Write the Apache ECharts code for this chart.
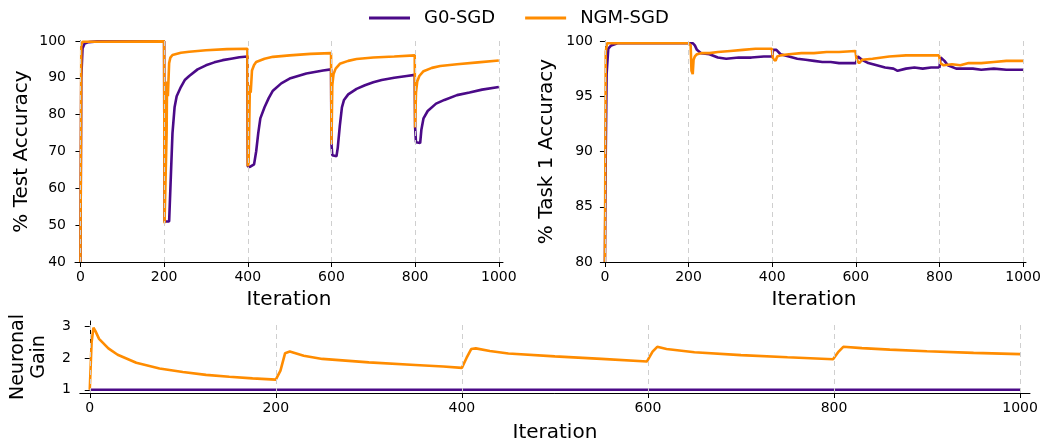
<!DOCTYPE html>
<html><head><meta charset="utf-8">
<script src="https://cdn.jsdelivr.net/npm/echarts@6/dist/echarts.min.js"></script>
<style>html,body{margin:0;padding:0;background:#fff}#c{width:1045px;height:444px}</style>
</head><body><div id="c"></div>
<script>
// ---- data ----
const xTicks = [0, 200, 400, 600, 800, 1000];
const taskBoundaries = [0, 200, 400, 600, 800, 1000];
const testAccTicks = [40, 50, 60, 70, 80, 90, 100];
const task1AccTicks = [80, 85, 90, 95, 100];
const gainTicks = [1, 2, 3];

const testAccG0 = [[0,40],[2,90],[5,98],[10,99.3],[20,99.7],[40,99.9],[200,99.9],[201,51],[212,51],[215,60],[220,75],[225,82],[230,85],[240,87.5],[250,89.5],[260,90.5],[280,92.3],[300,93.4],[320,94.2],[340,94.8],[360,95.2],[380,95.6],[399,95.8],
[400,66],[405,65.8],[415,66.5],[420,70],[425,75],[430,79],[440,82],[450,84.5],[460,86.5],[480,88.5],[500,89.8],[520,90.5],[540,91.2],[560,91.6],[580,92],[599,92.3],
[600,72],[602,69],[605,68.6],[612,68.7],[615,71],[620,77],[625,82],[630,84],[640,85.5],[660,87],[680,88],[700,88.8],[720,89.4],[750,90],[780,90.5],[799,90.8],
[800,76.5],[802,72.5],[805,72.1],[812,72.3],[815,76],[820,79],[830,81],[850,83],[870,84],[900,85.3],[930,86],[960,86.8],[1000,87.5]];
const testAccNGM = [[0,40],[2,99],[5,99.8],[200,99.9],[201,50.5],[204,50.5],[206,75],[207,89],[209,85],[212,94],[215,95.5],[220,96.2],[240,96.8],[260,97.1],[300,97.5],[350,97.8],[399,97.9],
[400,66],[402,67],[405,88],[407,86],[410,92],[415,93.5],[420,94.3],[440,95.2],[460,95.7],[500,96.1],[550,96.5],[599,96.7],
[600,72],[602,88],[605,91],[610,92.5],[620,93.8],[640,94.6],[660,95.1],[700,95.5],[750,95.8],[799,96.1],
[800,76.5],[802,86],[805,89],[810,90.5],[820,91.8],[840,92.7],[860,93.2],[900,93.7],[950,94.2],[1000,94.7]];

const task1G0 = [[0,80],[2,90],[4,97],[8,99.3],[15,99.6],[30,99.8],[200,99.8],[210,99.8],[215,99.6],[220,99.2],[230,98.9],[250,98.8],[270,98.5],[290,98.4],[320,98.5],[350,98.5],[380,98.6],[400,98.6],[402,99.2],[410,99.2],[420,98.8],[440,98.6],[460,98.4],[480,98.3],[500,98.2],[520,98.1],[540,98.1],[560,98.0],[580,98.0],[600,98.0],[605,98.6],[615,98.3],[630,98.0],[650,97.8],[670,97.6],[690,97.5],[700,97.3],[720,97.5],[740,97.6],[760,97.5],[780,97.6],[800,97.6],[803,98.5],[812,98.2],[820,97.8],[840,97.5],[860,97.5],[880,97.5],[900,97.4],[930,97.5],[960,97.4],[1000,97.4]];
const task1NGM = [[0,80],[2,99],[5,99.8],[200,99.8],[205,99.6],[207,97.3],[210,97.0],[212,98.3],[215,98.6],[220,98.8],[230,98.9],[250,98.9],[270,99.0],[300,99.1],[330,99.2],[360,99.3],[399,99.3],[402,98.4],[408,98.2],[412,98.6],[420,98.7],[440,98.8],[470,98.9],[500,98.9],[530,99.0],[560,99.0],[599,99.1],[602,98.3],[608,98.0],[615,98.3],[640,98.4],[680,98.6],[720,98.7],[760,98.7],[799,98.7],[802,98.0],[810,97.8],[830,97.9],[850,97.8],[870,98.0],[900,98.0],[930,98.1],[960,98.2],[1000,98.2]];

const gainG0 = [[0,1],[1000,1]];
const gainNGM = [[0,1],[2,2.5],[4,2.95],[6,2.85],[10,2.6],[20,2.3],[30,2.1],[50,1.85],[75,1.67],[100,1.56],[125,1.47],[150,1.41],[175,1.36],[200,1.32],[205,1.6],[210,2.15],[215,2.2],[230,2.07],[250,1.97],[300,1.86],[350,1.78],[380,1.73],[400,1.69],[405,2.0],[410,2.28],[415,2.3],[430,2.22],[450,2.14],[500,2.05],[550,1.97],[599,1.89],[605,2.2],[610,2.35],[620,2.28],[650,2.18],[700,2.09],[750,2.02],[799,1.96],[805,2.2],[810,2.35],[830,2.31],[860,2.26],[900,2.21],[950,2.16],[1000,2.12]];

// ---- chart ----
const PURPLE = '#4B0A88', ORANGE = '#FF8C00';
const FONT = 'DejaVu Sans';
const chart = echarts.init(document.getElementById('c'), null, {renderer: 'canvas'});

function xAx(gi, min, max, gap) {
  return {
    type: 'value', gridIndex: gi, min: min, max: max,
    name: 'Iteration', nameLocation: 'middle', nameGap: gap,
    nameTextStyle: {fontFamily: FONT, fontSize: 20, color: '#000'},
    axisLine: {show: true, lineStyle: {color: '#000', width: 1}},
    axisTick: {show: true, customValues: xTicks, length: 5, lineStyle: {color: '#000'}},
    axisLabel: {customValues: xTicks, formatter: v => String(v), fontFamily: FONT, fontSize: 14, color: '#000', margin: 8},
    splitLine: {show: false}
  };
}
function yAx(gi, min, max, ticks, name, gap, fs) {
  return {
    type: 'value', gridIndex: gi, min: min, max: max,
    name: name, nameLocation: 'middle', nameGap: gap, nameRotate: 90,
    nameTextStyle: {fontFamily: FONT, fontSize: fs, color: '#000', lineHeight: fs * 1.1},
    axisLine: {show: true, lineStyle: {color: '#000', width: 1}},
    axisTick: {show: true, customValues: ticks, length: 5, lineStyle: {color: '#000'}},
    axisLabel: {customValues: ticks, formatter: v => String(v), fontFamily: FONT, fontSize: 14, color: '#000', margin: 9},
    splitLine: {show: false}
  };
}
function vlineSeries(i) {
  return {
    type: 'line', xAxisIndex: i, yAxisIndex: i, data: [], z: 1, silent: true,
    markLine: {silent: true, symbol: 'none', label: {show: false},
      lineStyle: {type: [5, 4], color: '#cfcfcf', width: 1},
      data: taskBoundaries.map(v => ({xAxis: v}))}
  };
}
function lineSeries(name, i, data, color) {
  return {name: name, type: 'line', xAxisIndex: i, yAxisIndex: i, data: data,
    showSymbol: false, symbol: 'none', z: 3,
    lineStyle: {color: color, width: 2.6}, itemStyle: {color: color}};
}

chart.setOption({
  animation: false,
  backgroundColor: '#fff',
  legend: {
    data: ['G0-SGD', 'NGM-SGD'], top: 4, left: 364,
    icon: 'rect', itemWidth: 41, itemHeight: 3, itemGap: 30,
    textStyle: {fontFamily: FONT, fontSize: 18, color: '#000', padding: [0, 0, 0, 9]}
  },
  grid: [
    {left: 75, top: 41, width: 428, height: 221},
    {left: 602, top: 41, width: 424, height: 221},
    {left: 76, top: 321, width: 954, height: 73}
  ],
  xAxis: [xAx(0, -13, 1010, 28), xAx(1, -7, 1007, 28), xAx(2, -10.7, 1010.7, 30)],
  yAxis: [
    yAx(0, 40, 100, testAccTicks, '% Test Accuracy', 42, 20),
    yAx(1, 80, 100, task1AccTicks, '% Task 1 Accuracy', 44, 20),
    yAx(2, 0.9, 3.16, gainTicks, 'Neuronal\nGain', 30, 19)
  ],
  series: [
    vlineSeries(0), vlineSeries(1), vlineSeries(2),
    lineSeries('G0-SGD', 0, testAccG0, PURPLE),
    lineSeries('NGM-SGD', 0, testAccNGM, ORANGE),
    lineSeries('G0-SGD', 1, task1G0, PURPLE),
    lineSeries('NGM-SGD', 1, task1NGM, ORANGE),
    lineSeries('G0-SGD', 2, gainG0, PURPLE),
    lineSeries('NGM-SGD', 2, gainNGM, ORANGE)
  ]
});
</script></body></html>
